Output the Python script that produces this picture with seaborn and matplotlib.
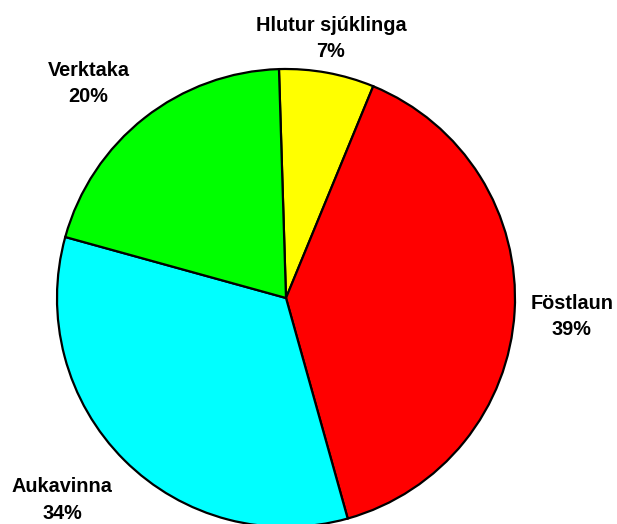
import numpy as np
import matplotlib
matplotlib.use("Agg")
import matplotlib.pyplot as plt
import seaborn as sns

categories = ["Hlutur sjúklinga", "Föstlaun", "Aukavinna", "Verktaka"]
values = [6.7, 39.4, 33.6, 20.2]
colors = ["#FFFF00", "#FF0000", "#00FFFF", "#00FF00"]
label_dist = [1.15, 1.25, 1.317, 1.273]
label_angle_shift = [0.5, -0.3, -3.0, 4.5]

sns.set_theme(style="white")
plt.rcParams["font.family"] = ["Liberation Sans", "DejaVu Sans"]

W, H = 617, 524
cx, cy, R = 286, 298, 229
fig = plt.figure(figsize=(W / 100, H / 100), dpi=100)
ax = fig.add_axes([0, 0, 1, 1])

wedges, _ = ax.pie(values, colors=colors, startangle=91.76, counterclock=False,
                   radius=1.0, center=(0, 0), frame=True,
                   wedgeprops=dict(edgecolor="black", linewidth=1.6))
ax.set_xlim(-cx / R, (W - cx) / R)
ax.set_ylim(-(H - cy) / R, cy / R)
ax.set_aspect("auto")
ax.axis("off")

total = sum(values)
for w, name, v, d, s in zip(wedges, categories, values, label_dist, label_angle_shift):
    mid = np.deg2rad((w.theta1 + w.theta2) / 2 + s)
    x, y = d * np.cos(mid), d * np.sin(mid)
    ax.text(x, y, f"{name}\n{round(v / total * 100):.0f}%", ha="center", va="center",
            fontsize=14.3, fontweight="bold", linespacing=1.5, color="black")

fig.savefig("out.png", dpi=100)
